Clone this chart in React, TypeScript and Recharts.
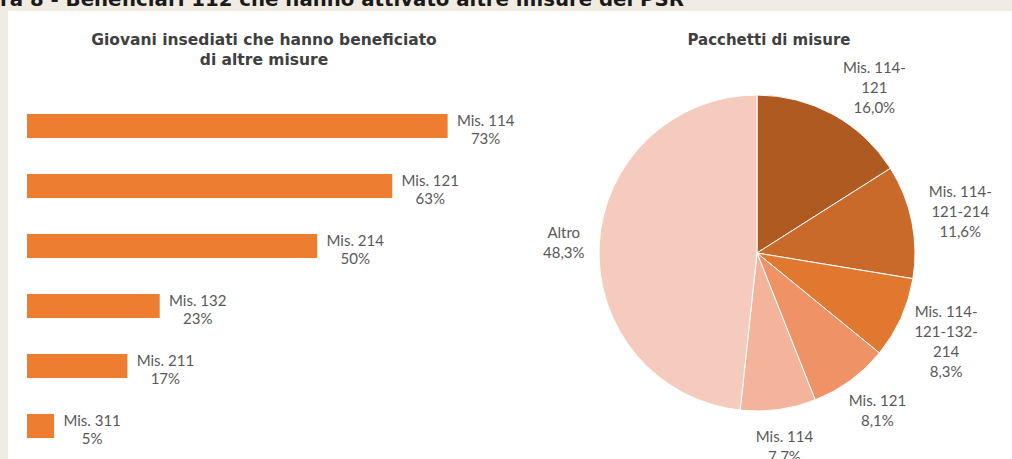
import React from 'react';
import { BarChart, Bar, XAxis, YAxis, LabelList, PieChart, Pie, Cell } from 'recharts';

const pageTitle = 'ra 8 - Beneficiari 112 che hanno attivato altre misure del PSR';
const barTitleLines = ['Giovani insediati che hanno beneficiato', 'di altre misure'];
const pieTitle = 'Pacchetti di misure';

const barCategories = ['Mis. 114', 'Mis. 121', 'Mis. 214', 'Mis. 132', 'Mis. 211', 'Mis. 311'];
// underlying shares (%); labels show them rounded
const barValues = [72.9, 63.3, 50.3, 23.0, 17.4, 4.7];

const pieCategories = [
  'Mis. 114-\n121',
  'Mis. 114-\n121-214',
  'Mis. 114-\n121-132-\n214',
  'Mis. 121',
  'Mis. 114',
  'Altro',
];
const pieValues = [16.0, 11.6, 8.3, 8.1, 7.7, 48.3];
const pieColors = ['#ae5a21', '#c96a2a', '#e0782f', '#ef9266', '#f3b49b', '#f5cbbd'];
const barColor = '#ed7d31';

const barData = barCategories.map((name, i) => ({ name, value: barValues[i] }));
const pieData = pieCategories.map((name, i) => ({ name, value: pieValues[i] }));

const LABEL_FONT = 'Lato, "DejaVu Sans", sans-serif';
const TITLE_FONT = '"DejaVu Sans", sans-serif';
const LABEL_COLOR = '#595959';
const PIE_LABEL_MIN_TOP = 58; // labels are kept below the pie title

const BarLabel = (props: any) => {
  const { x, y, width, height, index } = props;
  const lx = Number(x) + Number(width) + 38;
  const ly = Number(y) + Number(height) / 2;
  return (
    <text textAnchor="middle" fill={LABEL_COLOR} fontFamily={LABEL_FONT} fontSize={15}>
      <tspan x={lx} y={ly}>{barCategories[index]}</tspan>
      <tspan x={lx} y={ly + 18}>{Math.round(barValues[index])}%</tspan>
    </text>
  );
};

const RAD = Math.PI / 180;
const PieLabel = (props: any) => {
  const { cx, cy, midAngle, outerRadius, index } = props;
  const lines = [
    ...pieCategories[index].split('\n'),
    pieValues[index].toFixed(1).replace('.', ',') + '%',
  ];
  const w = Math.max(...lines.map((l) => l.length)) * 7;
  const h = lines.length * 20;
  const c = Math.cos(midAngle * RAD);
  const s = Math.sin(midAngle * RAD);
  const r = outerRadius + 18;
  let bx = cx + c * (r + w / 2);
  let by = cy - s * (r + h / 2);
  if (by - h / 2 < PIE_LABEL_MIN_TOP) {
    // push the label down, then slide it outward so it stays clear of the pie
    by = PIE_LABEL_MIN_TOP + h / 2;
    const dy = by + h / 2 - cy;
    const rr = outerRadius + 2;
    if (Math.abs(dy) < rr) {
      const minX = cx + Math.sqrt(rr * rr - dy * dy) + w / 2;
      if (c > 0 && bx < minX) bx = minX;
    }
  }
  const first = by - h / 2 + 15;
  return (
    <text textAnchor="middle" fill={LABEL_COLOR} fontFamily={LABEL_FONT} fontSize={15}>
      {lines.map((l, i) => (
        <tspan key={i} x={bx} y={first + i * 20}>{l}</tspan>
      ))}
    </text>
  );
};

export default function App() {
  return (
    <div style={{ position: 'absolute', left: 0, top: 0, width: 1012, height: 459, background: '#f0ece3', overflow: 'hidden' }}>
      <svg width={1012} height={459} style={{ position: 'absolute', left: 0, top: 0 }}>
        <text x={0} y={6} fontFamily={TITLE_FONT} fontWeight="bold" fontSize={19} fill="#1a1a1a" textLength={684} lengthAdjust="spacingAndGlyphs">
          {pageTitle}
        </text>
        <rect x={8} y={11} width={1004} height={448} fill="#ffffff" />
        <text x={264} y={45} textAnchor="middle" fontFamily={TITLE_FONT} fontWeight="bold" fontSize={15.5} fill="#404040">
          {barTitleLines[0]}
        </text>
        <text x={264} y={65} textAnchor="middle" fontFamily={TITLE_FONT} fontWeight="bold" fontSize={15.5} fill="#404040">
          {barTitleLines[1]}
        </text>
        <text x={769} y={45} textAnchor="middle" fontFamily={TITLE_FONT} fontWeight="bold" fontSize={15} fill="#404040">
          {pieTitle}
        </text>
      </svg>
      <div style={{ position: 'absolute', left: 0, top: 0 }}>
        <BarChart
          width={520}
          height={459}
          data={barData}
          layout="vertical"
          margin={{ top: 96, right: 31.4, bottom: 3, left: 27 }}
        >
          <XAxis type="number" domain={[0, 80]} hide />
          <YAxis
            type="category"
            dataKey="name"
            width={0}
            tick={false}
            tickLine={false}
            axisLine={{ stroke: '#868686', strokeWidth: 1 }}
          />
          <Bar dataKey="value" fill={barColor} barSize={24} isAnimationActive={false}>
            <LabelList dataKey="value" content={BarLabel} />
          </Bar>
        </BarChart>
      </div>
      <div style={{ position: 'absolute', left: 520, top: 0 }}>
        <PieChart width={492} height={459} margin={{ top: 0, right: 0, bottom: 0, left: 0 }}>
          <Pie
            data={pieData}
            dataKey="value"
            nameKey="name"
            cx={237}
            cy={253}
            outerRadius={158}
            startAngle={90}
            endAngle={-270}
            stroke="#ffffff"
            strokeWidth={1}
            labelLine={false}
            label={PieLabel}
            isAnimationActive={false}
          >
            {pieData.map((d, i) => (
              <Cell key={d.name} fill={pieColors[i]} />
            ))}
          </Pie>
        </PieChart>
      </div>
    </div>
  );
}
